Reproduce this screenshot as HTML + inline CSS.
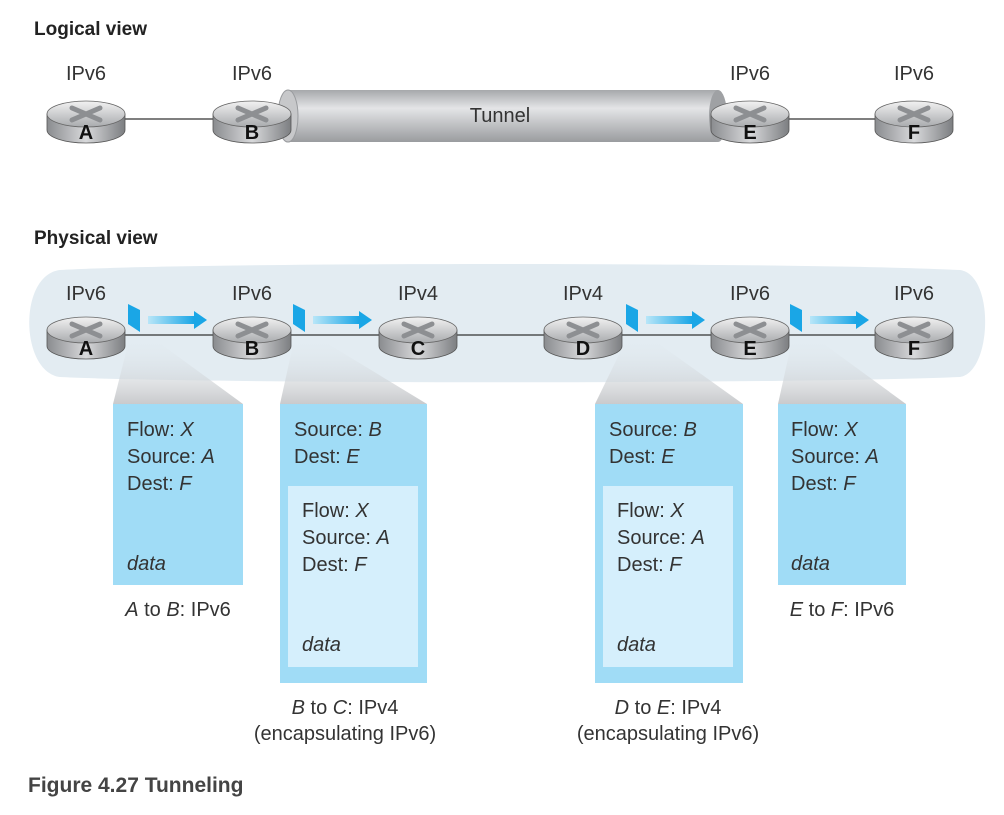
<!DOCTYPE html>
<html><head><style>
body{margin:0;background:#fff;}
svg text{font-family:"Liberation Sans",sans-serif;}
</style></head><body>
<svg width="1004" height="810" viewBox="0 0 1004 810" xmlns="http://www.w3.org/2000/svg">
<defs>
<linearGradient id="rt" x1="0" y1="0" x2="0" y2="1"><stop offset="0" stop-color="#f2f2f2"/><stop offset="1" stop-color="#a9abae"/></linearGradient>
<linearGradient id="rb" x1="0" y1="0" x2="1" y2="0"><stop offset="0" stop-color="#8a8c8f"/><stop offset="0.5" stop-color="#d8d9db"/><stop offset="1" stop-color="#7c7e81"/></linearGradient>
<linearGradient id="tu" x1="0" y1="0" x2="0" y2="1"><stop offset="0" stop-color="#a6a8ab"/><stop offset="0.35" stop-color="#e4e5e7"/><stop offset="1" stop-color="#9a9c9f"/></linearGradient>
<linearGradient id="fn" x1="0" y1="0" x2="0" y2="1"><stop offset="0" stop-color="#e3ecf2" stop-opacity="0"/><stop offset="1" stop-color="#c9cacc"/></linearGradient>
<linearGradient id="ar" x1="0" y1="0" x2="1" y2="0"><stop offset="0" stop-color="#b8e6f8"/><stop offset="1" stop-color="#1aa6e6"/></linearGradient>
<g id="router">
<path d="M-39,0 L-39,16 A39,13 0 0 0 39,16 L39,0 Z" fill="url(#rb)" stroke="#555" stroke-width="0.8"/>
<ellipse cx="0" cy="0" rx="39" ry="13" fill="url(#rt)" stroke="#666" stroke-width="0.8"/>
<path d="M-14,-6 L14,6 M-14,6 L14,-6" stroke="#8d8f92" stroke-width="5" stroke-linecap="round"/>
</g>
</defs>
<text x="34" y="35" font-size="19" font-weight="bold" fill="#222">Logical view</text>
<line x1="86" y1="119" x2="912" y2="119" stroke="#333" stroke-width="1.3"/>
<rect x="288" y="90" width="430" height="52" fill="url(#tu)"/>
<ellipse cx="718" cy="116" rx="9" ry="26" fill="#9fa1a4"/>
<ellipse cx="288" cy="116" rx="10" ry="26" fill="#c7c8ca" stroke="#9a9c9f"/>
<text x="500" y="122" font-size="20" text-anchor="middle" fill="#333">Tunnel</text>
<g font-size="20" fill="#333" text-anchor="middle">
<text x="86" y="80">IPv6</text><text x="252" y="80">IPv6</text><text x="750" y="80">IPv6</text><text x="914" y="80">IPv6</text>
</g>
<use href="#router" x="86" y="114"/><use href="#router" x="252" y="114"/><use href="#router" x="750" y="114"/><use href="#router" x="914" y="114"/>
<g font-size="20" font-weight="bold" fill="#111" text-anchor="middle">
<text x="86" y="139">A</text><text x="252" y="139">B</text><text x="750" y="139">E</text><text x="914" y="139">F</text>
</g>

<text x="34" y="244" font-size="19" font-weight="bold" fill="#222">Physical view</text>
<path d="M60,270 C200,262 800,262 960,270 C995,275 992,372 960,377 C800,384 200,384 60,377 C20,372 18,275 60,270 Z" fill="#e3ecf2"/>
<path d="M130,336 L150,336 L243,404 L113,404 Z" fill="url(#fn)"/>
<path d="M295,336 L315,336 L427,404 L280,404 Z" fill="url(#fn)"/>
<path d="M628,336 L648,336 L743,404 L595,404 Z" fill="url(#fn)"/>
<path d="M793,336 L813,336 L906,404 L778,404 Z" fill="url(#fn)"/>
<line x1="86" y1="335" x2="914" y2="335" stroke="#333" stroke-width="1.3"/>
<g font-size="20" fill="#333" text-anchor="middle">
<text x="86" y="300">IPv6</text><text x="252" y="300">IPv6</text><text x="418" y="300">IPv4</text><text x="583" y="300">IPv4</text><text x="750" y="300">IPv6</text><text x="914" y="300">IPv6</text>
</g>
<g id="pk">
<path d="M128,304 L140,310 L140,332 L128,324 Z" fill="#1aa6e6"/>
<rect x="148" y="316" width="46" height="8" fill="url(#ar)"/>
<path d="M194,311 L207,320 L194,329 Z" fill="#1aa6e6"/>
</g>
<use href="#pk" x="165"/><use href="#pk" x="498"/><use href="#pk" x="662"/>
<use href="#router" x="86" y="330"/><use href="#router" x="252" y="330"/><use href="#router" x="418" y="330"/><use href="#router" x="583" y="330"/><use href="#router" x="750" y="330"/><use href="#router" x="914" y="330"/>
<g font-size="20" font-weight="bold" fill="#111" text-anchor="middle">
<text x="86" y="355">A</text><text x="252" y="355">B</text><text x="418" y="355">C</text><text x="583" y="355">D</text><text x="750" y="355">E</text><text x="914" y="355">F</text>
</g>

<rect x="113" y="404" width="130" height="181" fill="#a0dcf6"/>
<rect x="280" y="404" width="147" height="279" fill="#a0dcf6"/>
<rect x="288" y="486" width="130" height="181" fill="#d5effc"/>
<rect x="595" y="404" width="148" height="279" fill="#a0dcf6"/>
<rect x="603" y="486" width="130" height="181" fill="#d5effc"/>
<rect x="778" y="404" width="128" height="181" fill="#a0dcf6"/>
<g font-size="20" fill="#333">
<text x="127" y="436">Flow: <tspan font-style="italic">X</tspan></text>
<text x="127" y="463">Source: <tspan font-style="italic">A</tspan></text>
<text x="127" y="490">Dest: <tspan font-style="italic">F</tspan></text>
<text x="127" y="570" font-style="italic">data</text>
<text x="294" y="436">Source: <tspan font-style="italic">B</tspan></text>
<text x="294" y="463">Dest: <tspan font-style="italic">E</tspan></text>
<text x="302" y="517">Flow: <tspan font-style="italic">X</tspan></text>
<text x="302" y="544">Source: <tspan font-style="italic">A</tspan></text>
<text x="302" y="571">Dest: <tspan font-style="italic">F</tspan></text>
<text x="302" y="651" font-style="italic">data</text>
<text x="609" y="436">Source: <tspan font-style="italic">B</tspan></text>
<text x="609" y="463">Dest: <tspan font-style="italic">E</tspan></text>
<text x="617" y="517">Flow: <tspan font-style="italic">X</tspan></text>
<text x="617" y="544">Source: <tspan font-style="italic">A</tspan></text>
<text x="617" y="571">Dest: <tspan font-style="italic">F</tspan></text>
<text x="617" y="651" font-style="italic">data</text>
<text x="791" y="436">Flow: <tspan font-style="italic">X</tspan></text>
<text x="791" y="463">Source: <tspan font-style="italic">A</tspan></text>
<text x="791" y="490">Dest: <tspan font-style="italic">F</tspan></text>
<text x="791" y="570" font-style="italic">data</text>
</g>
<g font-size="20" fill="#333" text-anchor="middle">
<text x="178" y="616"><tspan font-style="italic">A</tspan> to <tspan font-style="italic">B</tspan>: IPv6</text>
<text x="842" y="616"><tspan font-style="italic">E</tspan> to <tspan font-style="italic">F</tspan>: IPv6</text>
<text x="345" y="714"><tspan font-style="italic">B</tspan> to <tspan font-style="italic">C</tspan>: IPv4</text>
<text x="345" y="740">(encapsulating IPv6)</text>
<text x="668" y="714"><tspan font-style="italic">D</tspan> to <tspan font-style="italic">E</tspan>: IPv4</text>
<text x="668" y="740">(encapsulating IPv6)</text>
</g>
<text x="28" y="792" font-size="21" font-weight="bold" fill="#444">Figure 4.27 Tunneling</text>
</svg>
</body></html>
